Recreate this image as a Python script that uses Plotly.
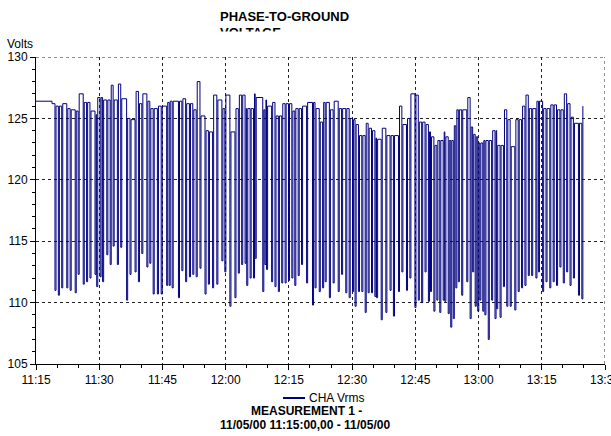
import plotly.graph_objects as go
from datetime import datetime, timedelta

# ---------------- data (minutes after 11:15 on 11/05/00, volts) ----------------
start_time = datetime(2000, 11, 5, 11, 15)

lead_minutes = [0.0, 3.8]
lead_volts = [126.4, 126.2]

pulse_minutes = [
    4.5, 5.3, 6.1, 7.3, 8.1, 9.3, 10.0, 11.2, 12.0, 12.8,
    14.0, 14.4, 15.2, 15.8, 16.8, 17.6, 18.3, 19.3, 20.1, 21.5,
    22.3, 23.5, 24.3, 25.1, 26.3, 27.0, 27.8, 28.8, 29.7, 31.0,
    31.6, 32.3, 33.8, 34.6, 35.5, 36.4, 37.2, 38.0, 38.9, 40.1,
    40.9, 41.9, 42.9, 44.1, 44.8, 46.0, 47.2, 48.0, 48.8, 49.6,
    50.0, 50.8, 51.6, 52.0, 53.8, 54.3, 54.7, 55.9, 56.7, 57.5,
    58.3, 59.1, 59.9, 60.7, 61.4, 62.2, 63.0, 64.2, 65.6, 66.2,
    67.2, 68.0, 68.6, 69.6, 70.5, 71.7, 72.5, 73.5, 74.3, 75.1,
    75.7, 76.5, 77.3, 78.1, 78.8, 79.6, 80.4, 80.8, 81.9, 83.0,
    84.0, 84.8, 86.0, 86.8, 87.9, 88.7, 89.9, 90.7, 91.5, 92.3,
    93.1, 93.6, 94.4, 95.1, 95.8, 96.6, 97.0, 97.8, 98.4, 99.0,
    99.6, 100.2, 101.0, 102.2, 103.0, 103.6, 104.2, 104.8, 105.3, 106.0,
    106.5, 107.3, 108.1, 108.9, 109.3, 110.1, 110.9, 111.7, 112.5, 113.6,
    114.4, 115.2, 116.0, 116.8, 117.6, 118.6, 119.2, 120.2, 121.0, 121.9,
    122.7, 123.5, 124.3, 125.1, 125.9, 126.7, 127.5, 128.7, 129.5,
]
pulse_low = [
    111.0, 110.6, 111.2, 111.2, 111.0, 110.8, 112.3, 111.5, 111.7, 112.0,
    112.3, 111.3, 112.1, 111.7, 113.9, 113.1, 114.6, 113.1, 114.5, 110.2,
    112.3, 112.5, 111.7, 114.0, 112.9, 113.2, 110.7, 110.7, 110.7, 111.4,
    111.4, 111.2, 110.4, 112.6, 111.7, 112.1, 112.3, 112.1, 112.8, 110.7,
    111.5, 111.2, 111.5, 113.4, 112.5, 109.7, 110.4, 112.4, 113.1, 113.2,
    111.4, 112.0, 112.0, 113.6, 110.9, 113.1, 112.7, 111.7, 111.3, 110.9,
    111.6, 111.6, 111.8, 112.0, 111.4, 112.2, 113.1, 111.6, 109.8, 111.2,
    110.9, 111.2, 111.7, 110.4, 111.6, 110.9, 112.3, 110.8, 110.4, 110.9,
    109.7, 110.9, 110.9, 109.2, 110.8, 110.8, 110.5, 110.4, 108.6, 109.2,
    111.0, 108.9, 110.9, 112.5, 111.0, 112.0, 109.6, 110.2, 110.0, 112.5,
    110.1, 110.9, 109.3, 110.2, 109.2, 110.2, 110.1, 109.1, 108.0, 108.7,
    111.2, 111.7, 110.6, 111.7, 108.7, 112.5, 109.7, 109.3, 110.2, 109.3,
    109.0, 107.0, 110.2, 108.7, 109.5, 108.8, 111.3, 109.7, 109.7, 109.4,
    110.9, 111.2, 111.4, 112.2, 112.2, 112.0, 112.5, 110.9, 111.7, 111.2,
    111.7, 111.4, 112.9, 111.6, 112.5, 111.4, 112.0, 110.6, 110.3,
]
level_after = [
    126.0, 126.0, 126.2, 125.8, 125.7, 125.6, 127.0, 126.3, 126.3, 125.6,
    125.3, 126.7, 126.7, 126.5, 126.5, 127.7, 126.5, 127.8, 126.6, 125.0,
    124.9, 127.2, 126.2, 127.0, 126.4, 125.8, 125.8, 126.0, 126.0, 126.3,
    126.4, 126.4, 126.4, 126.6, 126.2, 126.2, 125.7, 128.0, 125.2, 124.0,
    123.9, 126.9, 126.5, 125.8, 126.9, 123.9, 125.8, 126.9, 126.9, 125.8,
    125.8, 125.8, 127.0, 126.7, 125.7, 126.5, 126.0, 126.3, 125.2, 125.2,
    126.2, 126.2, 126.2, 125.6, 125.8, 125.8, 126.0, 126.3, 126.3, 125.8,
    124.7, 126.3, 126.3, 125.7, 126.4, 125.8, 125.8, 125.8, 125.0, 124.9,
    124.5, 123.6, 123.6, 124.6, 124.2, 124.0, 123.4, 123.3, 124.2, 123.6,
    123.6, 123.6, 126.0, 124.5, 125.0, 127.0, 126.9, 124.7, 124.7, 124.5,
    123.9, 123.5, 122.8, 123.2, 123.2, 123.9, 123.5, 123.2, 123.2, 124.4,
    125.7, 125.7, 125.7, 126.7, 124.3, 123.7, 123.5, 123.0, 123.0, 123.2,
    123.2, 123.2, 124.0, 124.0, 122.8, 122.8, 125.7, 124.9, 122.7, 124.9,
    124.9, 126.0, 126.9, 125.8, 125.8, 126.4, 126.4, 125.8, 125.8, 126.1,
    126.1, 125.7, 125.7, 127.0, 126.2, 125.1, 124.6, 124.6, 126.0,
]
pulse_length_min = 0.25   # duration of each sag sample

y_ticks = [105, 110, 115, 120, 125, 130]
y_range = [105, 130]
span_minutes = 135
series_name = "CHA Vrms"

# ---------------- build the stepped series ----------------
mins, volts = list(lead_minutes), list(lead_volts)
for t, lo, hi in zip(pulse_minutes, pulse_low, level_after):
    mins += [t, t + pulse_length_min]
    volts += [lo, hi]
times = [start_time + timedelta(minutes=m) for m in mins]
end_time = start_time + timedelta(minutes=span_minutes)

NAVY = "#000080"
GRID = "#222222"
DASH = "3px,3px"
FONT = "Liberation Sans, Arial, sans-serif"

fig = go.Figure()
fig.add_trace(go.Scatter(
    x=times, y=volts, mode="lines", name=series_name,
    line=dict(color=NAVY, width=1, shape="hv"), showlegend=False, hoverinfo="skip",
))

W, H = 611, 436
L, R, T, B = 36, 6, 57, 72
pw, ph = W - L - R, H - T - B


def px(xp):
    return (xp - L) / pw


def py(yp):
    return (H - B - yp) / ph


fig.update_layout(
    width=W, height=H, autosize=False,
    margin=dict(l=L, r=R, t=T, b=B, pad=0, autoexpand=False),
    paper_bgcolor="white", plot_bgcolor="white",
    font=dict(family=FONT, size=12, color="black"),
    showlegend=False,
)

fig.update_xaxes(
    type="date", automargin=False,
    range=[start_time, end_time],
    tick0=start_time, dtick=15 * 60 * 1000, tickformat="%H:%M",
    showline=True, linecolor="black", linewidth=1,
    ticks="outside", ticklen=5, tickcolor="black",
    showgrid=True, gridcolor=GRID, gridwidth=1, griddash=DASH,
    minor=dict(dtick=5 * 60 * 1000, ticks="outside", ticklen=3, tickcolor="black", showgrid=False),
    tickfont=dict(size=12), zeroline=False, ticklabeloverflow="allow",
)
fig.update_yaxes(
    range=y_range, tickvals=y_ticks, automargin=False,
    showline=True, linecolor="black", linewidth=1,
    ticks="outside", ticklen=5, tickcolor="black",
    showgrid=True, gridcolor=GRID, gridwidth=1, griddash=DASH,
    minor=dict(dtick=1, ticks="outside", ticklen=3, tickcolor="black", showgrid=False),
    tickfont=dict(size=12), zeroline=False, ticklabeloverflow="allow",
)

# edge grid lines (top at 130 V, right at 13:30) that plotly omits at range ends
fig.add_shape(type="line", xref="paper", yref="y", x0=0, x1=1, y0=y_range[1], y1=y_range[1],
              line=dict(color=GRID, width=1, dash=DASH))
fig.add_shape(type="line", xref="x", yref="paper", x0=end_time, x1=end_time, y0=0, y1=1,
              line=dict(color=GRID, width=1, dash=DASH))

ann = []
# title (second line clipped in the original)
ann.append(dict(text="<b>PHASE-TO-GROUND</b>", x=px(218), y=py(17), xref="paper", yref="paper",
                xanchor="left", yanchor="middle", showarrow=False, font=dict(size=13)))
ann.append(dict(text="<b>VOLTAGE</b>", x=px(218), y=py(33), xref="paper", yref="paper",
                xanchor="left", yanchor="middle", showarrow=False, font=dict(size=13)))
ann.append(dict(text=" ", x=px(210), y=py(31), xref="paper", yref="paper",
                xanchor="left", yanchor="top", showarrow=False, width=100, height=14,
                bgcolor="white", borderpad=0, font=dict(size=10)))
ann.append(dict(text="Volts", x=px(5), y=py(44), xref="paper", yref="paper",
                xanchor="left", yanchor="middle", showarrow=False, font=dict(size=12)))
# legend text
ann.append(dict(text=series_name, x=px(307), y=py(398), xref="paper", yref="paper",
                xanchor="left", yanchor="middle", showarrow=False, font=dict(size=12)))
# footer
ann.append(dict(text="<b>MEASUREMENT 1 -</b>", x=px(306), y=py(411), xref="paper", yref="paper",
                xanchor="center", yanchor="middle", showarrow=False, font=dict(size=12)))
ann.append(dict(text="<b>11/05/00 11:15:00,00 - 11/05/00</b>", x=px(305), y=py(425), xref="paper",
                yref="paper", xanchor="center", yanchor="middle", showarrow=False, font=dict(size=12)))
fig.update_layout(annotations=ann)

fig.add_shape(type="line", xref="paper", yref="paper", x0=px(283), x1=px(305), y0=py(398), y1=py(398),
              line=dict(color=NAVY, width=2))

post = (
    "document.documentElement.style.overflow='hidden';"
    "document.body.style.margin='0';document.body.style.padding='0';"
    "document.body.style.overflow='hidden';"
    "var gd=document.getElementById('{plot_id}');"
    "Plotly.relayout(gd,{width:611,height:436});"
)
fig.write_html("out.html", config={"displayModeBar": False, "responsive": False}, post_script=post)
